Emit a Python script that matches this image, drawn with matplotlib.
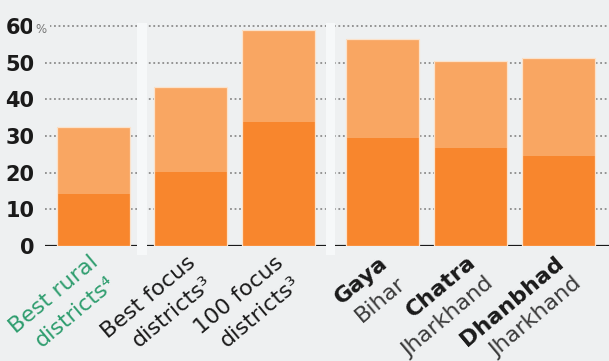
import matplotlib
matplotlib.use("Agg")
import matplotlib.pyplot as plt

# shares, per cent: full bar height and the darker lower part
labels_top = ["Best rural", "Best focus", "100 focus", "Gaya", "Chatra", "Dhanbhad"]
labels_bottom = ["districts⁴", "districts³", "districts³", "Bihar", "Jharkhand", "Jharkhand"]
groups = [0, 1, 1, 2, 2, 2]
total = [32.5, 43.3, 58.9, 56.4, 50.4, 51.3]
lower = [14.2, 20.2, 33.8, 29.4, 26.7, 24.6]
yticks = [0, 10, 20, 30, 40, 50, 60]

bg = "#eef0f1"
light = "#f9a662"
dark = "#f8862d"
green = "#2e9d6e"
plt.rcParams["font.family"] = ["DejaVu Sans"]

fig = plt.figure(figsize=(6.09, 3.61), dpi=100, facecolor=bg)
ax = fig.add_axes([45 / 609, 115 / 361, 1 - 45 / 609, 220 / 361])
ax.set_facecolor(bg)

group_shift = [0, 0.1, 0.29]
xs = [i + group_shift[g] for i, g in enumerate(groups)]
width = 0.83

# dotted gridlines behind everything
for y in yticks[1:]:
    ax.axhline(y, color="#8c8c8c", lw=1.3, ls=(0, (1, 1.5)), zorder=1, clip_on=False)
ax.axhline(0, color="#1a1a1a", lw=1.6, zorder=2)

# pale strips separating the three groups
for k in range(1, len(xs)):
    if groups[k] != groups[k - 1]:
        mid = (xs[k - 1] + xs[k]) / 2
        ax.axvspan(mid - 0.055, mid + 0.055, ymin=-0.04, ymax=1.015, color="#f6f8f9",
                   lw=0, zorder=3, clip_on=False)

upper = [t - l for t, l in zip(total, lower)]
ax.bar(xs, lower, width, color=dark, lw=0, zorder=4)
ax.bar(xs, upper, width, bottom=lower, color=light, lw=0, zorder=4)
ax.bar(xs, total, width, facecolor="none", edgecolor="#fbe2cb", lw=0.9, zorder=5)

ax.set_xlim(-0.55, 5.86)
ax.set_ylim(0, 60)
for s in ax.spines.values():
    s.set_visible(False)
ax.set_xticks([])
ax.set_yticks(yticks)
ax.set_yticklabels([str(v) for v in yticks], fontsize=15, fontweight="bold", color="#1a1a1a")
ax.tick_params(axis="y", length=0, pad=7.5)

ax.annotate("%", xy=(0, 60), xycoords=("axes fraction", "data"), xytext=(-7, -2.5),
            textcoords="offset points", ha="left", va="center", fontsize=8.5, color="#777777",
            bbox=dict(boxstyle="square,pad=0.3", fc=bg, ec="none"), zorder=5,
            annotation_clip=False)

# rotated two-line category labels
rot = 40
for i, x in enumerate(xs):
    if groups[i] == 0:
        c1, c2, w1 = green, green, "normal"
    elif groups[i] == 1:
        c1, c2, w1 = "#1a1a1a", "#1a1a1a", "normal"
    else:
        c1, c2, w1 = "#1a1a1a", "#3a3a3a", "bold"
    ax.annotate(labels_top[i], xy=(x, 0), xytext=(-3, -4.5), textcoords="offset points",
                ha="right", va="top", rotation=rot, rotation_mode="anchor",
                fontsize=16, fontweight=w1, color=c1, annotation_clip=False)
    ax.annotate(labels_bottom[i], xy=(x, 0), xytext=(-3 + 12.5, -4.5 - 15), textcoords="offset points",
                ha="right", va="top", rotation=rot, rotation_mode="anchor",
                fontsize=16, fontweight="normal", color=c2, annotation_clip=False)

fig.savefig("out.png", dpi=100, facecolor=bg)
